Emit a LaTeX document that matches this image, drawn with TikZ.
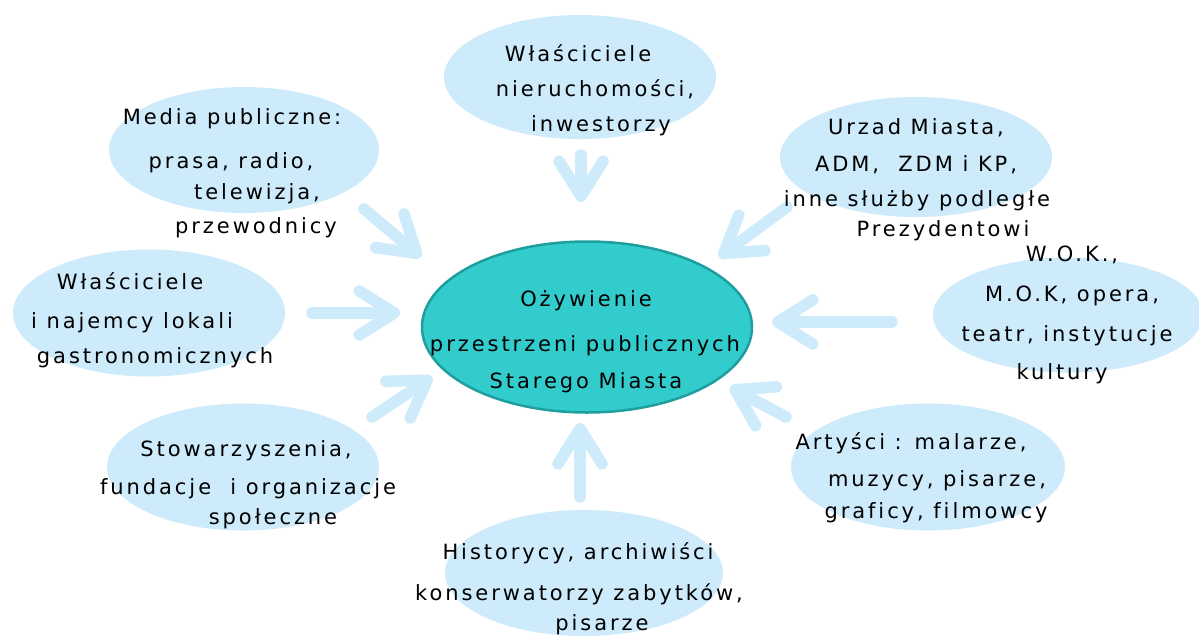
\documentclass[tikz,border=0pt]{standalone}
\usepackage{fontspec}
\setmainfont{DejaVu Sans}[LetterSpace=14,Ligatures=NoCommon]
\usetikzlibrary{shapes.geometric,arrows.meta}
\definecolor{lb}{HTML}{CDEBFA}
\definecolor{tealA}{HTML}{33CCCC}
\definecolor{tealB}{HTML}{1E9E9E}
\begin{document}
\begin{tikzpicture}[x=1pt,y=-1pt,
  bub/.style={ellipse, fill=lb, draw=none, inner sep=0pt},
  hub/.style={ellipse, fill=tealA, draw=tealB, line width=2.5pt, inner sep=0pt},
  lbl/.style={anchor=base, font=\fontsize{21}{25}\selectfont, inner sep=0pt, text=black},
  arr/.style={draw=lb, line width=11.5pt, line cap=round, line join=round,
    -{Straight Barb[length=35pt,width=44pt,line cap=round,line join=round]}}]
\useasboundingbox (0,0) rectangle (1199,635);
\begin{scope}
\clip (0,0) rectangle (1199,635);
% bubbles
\node[bub, minimum width=272pt, minimum height=124pt] (top) at (580,77) {};
\node[bub, minimum width=270pt, minimum height=126pt] (media) at (244,150) {};
\node[bub, minimum width=272pt, minimum height=120pt] (urzad) at (916,157) {};
\node[bub, minimum width=272pt, minimum height=127pt] (left) at (149,313) {};
\node[bub, minimum width=270pt, minimum height=115pt] (wok) at (1068,315) {};
\node[bub, minimum width=272pt, minimum height=127pt] (stow) at (243,467) {};
\node[bub, minimum width=274pt, minimum height=127pt] (art) at (928,467) {};
\node[bub, minimum width=278pt, minimum height=126pt] (hist) at (584,573) {};
\node[hub, minimum width=330pt, minimum height=171pt] (hub) at (587,327) {};
% arrow ends
\coordinate (a1) at (581,155); \coordinate (b1) at (581,202);
\coordinate (a2) at (364,209); \coordinate (b2) at (421,257);
\coordinate (a3) at (787,207); \coordinate (b3) at (719,257);
\coordinate (a4) at (312,313); \coordinate (b4) at (400,313);
\coordinate (a5) at (892,322); \coordinate (b5) at (772,322);
\coordinate (a6) at (372,417); \coordinate (b6) at (432,377);
\coordinate (a7) at (580,497); \coordinate (b7) at (580,423);
\coordinate (a8) at (786,417); \coordinate (b8) at (730,387);
\draw[arr] (a1) -- (b1);
\draw[arr] (a2) -- (b2);
\draw[arr] (a3) -- (b3);
\draw[arr] (a4) -- (b4);
\draw[arr] (a5) -- (b5);
\draw[arr] (a6) -- (b6);
\draw[arr] (a7) -- (b7);
\draw[arr] (a8) -- (b8);
% texts
\node[lbl] (t1) at (578,61) {Właściciele};
\node[lbl] (t2) at (595,96) {nieruchomości,};
\node[lbl] (t3) at (601,131) {inwestorzy};
\node[lbl] (m1) at (232,124) {Media publiczne:};
\node[lbl] (m2) at (231,168) {prasa, radio,};
\node[lbl] (m3) at (257,199) {telewizja,};
\node[lbl] (m4) at (256,233) {przewodnicy};
\node[lbl] (u1) at (916,134) {Urzad Miasta,};
\node[lbl] (u2) at (916,171) {ADM,\ \ ZDM i KP,};
\node[lbl] (u3) at (917,206) {inne służby podległe};
\node[lbl] (u4) at (943,236) {Prezydentowi};
\node[lbl] (l1) at (130,289) {Właściciele};
\node[lbl] (l2) at (132,328) {i najemcy lokali};
\node[lbl] (l3) at (155,363) {gastronomicznych};
\node[lbl] (w1) at (1072,261) {W.O.K.,};
\node[lbl] (w2) at (1072,301) {M.O.K, opera,};
\node[lbl] (w3) at (1067,341) {teatr, instytucje};
\node[lbl] (w4) at (1062,379) {kultury};
\node[lbl] (s1) at (246,456) {Stowarzyszenia,};
\node[lbl] (s2) at (248,494) {fundacje\ \ i organizacje};
\node[lbl] (s3) at (273,524) {społeczne};
\node[lbl] (r1) at (911,449) {Artyści : malarze,};
\node[lbl] (r2) at (937,486) {muzycy, pisarze,};
\node[lbl] (r3) at (936,518) {graficy, filmowcy};
\node[lbl] (h1) at (578,559) {Historycy, archiwiści};
\node[lbl] (h2) at (579,600) {konserwatorzy zabytków,};
\node[lbl] (h3) at (602,630) {pisarze};
\node[lbl] (c1) at (586,306) {Ożywienie};
\node[lbl] (c2) at (585,351) {przestrzeni publicznych};
\node[lbl] (c3) at (586,388) {Starego Miasta};
\end{scope}
\end{tikzpicture}
\end{document}
